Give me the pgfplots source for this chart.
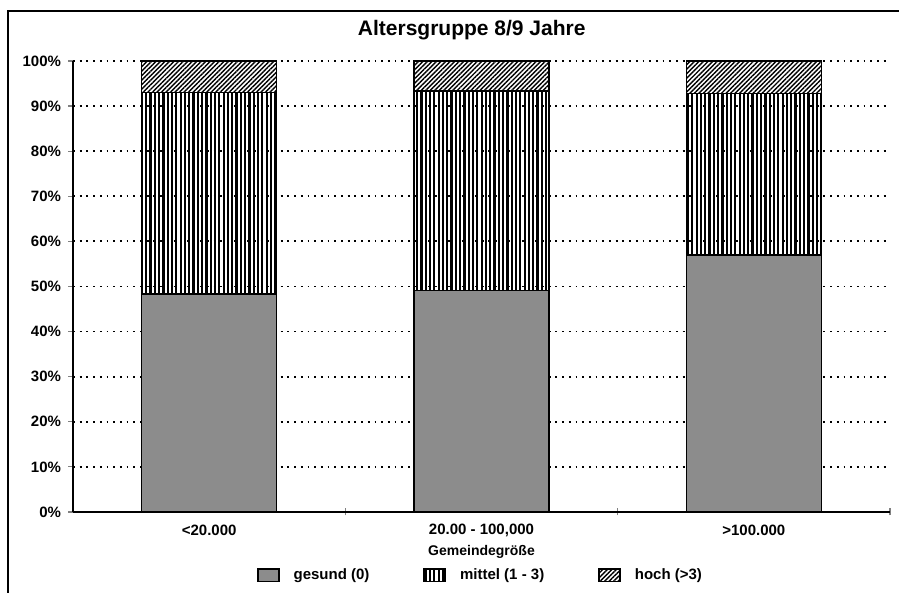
\documentclass[border=0pt]{standalone}
\usepackage{fontspec}
\setmainfont{Liberation Sans}
\usepackage{pgfplots}
\pgfplotsset{compat=1.18}
\usetikzlibrary{patterns.meta}
\begin{document}
\begin{tikzpicture}
\useasboundingbox (0,0) rectangle (449.5pt,296.5pt);
\begin{axis}[
  at={(36.5pt,40.5pt)}, anchor=south west,
  scale only axis, width=408.5pt, height=225.5pt,
  xmin=-0.5, xmax=2.5, ymin=0, ymax=100,
  ybar stacked, bar width=67.5pt,
  axis lines*=left,
  axis line style={line width=0.8pt},
  xtick={0,1,2},
  xticklabels={{<20.000},{20.00 - 100,000},{>100.000}},
  minor xtick={0.5,1.5,2.5},
  major x tick style={draw=none},
  minor x tick style={line width=0.6pt},
  minor tick length=3.5pt,
  xtick align=center,
  ytick={0,10,...,100},
  yticklabels={0\%,10\%,20\%,30\%,40\%,50\%,60\%,70\%,80\%,90\%,100\%},
  ytick align=outside,
  major tick length=2.5pt,
  y tick style={line width=0.6pt},
  tick label style={font=\fontsize{7.5}{9}\selectfont\bfseries},
  xticklabel style={anchor=center, yshift=-8pt},
  ymajorgrids,
  grid style={black, line width=0.9pt, dash pattern=on 0.9pt off 2.45pt},
  xlabel={Gemeindegröße},
  xlabel style={at={(axis description cs:0.5,-0.088)}, anchor=center, font=\fontsize{7}{8}\selectfont\bfseries},
  title={Altersgruppe 8/9 Jahre},
  title style={at={(axis description cs:0.488,1)}, anchor=center, yshift=9.5pt, font=\fontsize{10.5}{12}\selectfont\bfseries},
  legend columns=3,
  legend style={draw=none, fill=none, at={(axis description cs:0.5,-0.14)}, anchor=center,
    font=\fontsize{7.5}{9}\selectfont\bfseries,
    /tikz/every odd column/.append style={column sep=5pt},
    /tikz/every even column/.append style={column sep=25pt}},
  legend image code/.code={\draw[#1] (0pt,-3.2pt) rectangle (10.5pt,3.2pt);},
]
\addplot[draw=black, line width=0.8pt, fill=black!45] coordinates {(0,48.3) (1,49.1) (2,57.0)};
\addplot[draw=black, line width=0.8pt, pattern={Lines[angle=90,distance=2.15pt,line width=1.1pt]}] coordinates {(0,44.7) (1,44.3) (2,35.8)};
\addplot[draw=black, line width=0.8pt, pattern={Lines[angle=45,distance=1.6pt,line width=0.7pt]}] coordinates {(0,7.0) (1,6.6) (2,7.2)};
\legend{gesund (0), mittel (1 - 3), hoch (>3)}
\end{axis}
\draw[line width=1pt] (4pt,-10pt) -- (4pt,291pt) -- (460pt,291pt);
\end{tikzpicture}
\end{document}
